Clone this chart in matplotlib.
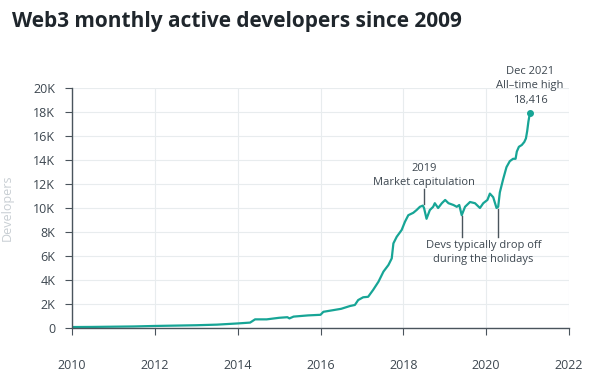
import matplotlib
matplotlib.use("Agg")
import matplotlib.pyplot as plt

# Data (decimal year, monthly active developers)
years = [2010.0, 2010.5, 2011.0, 2011.5, 2012.0, 2012.5, 2013.0, 2013.5, 2014.0, 2014.3,
         2014.42, 2014.7, 2015.0, 2015.2, 2015.25, 2015.35, 2015.7, 2016.0, 2016.07, 2016.5,
         2016.71, 2016.83, 2016.91, 2017.03, 2017.15, 2017.27, 2017.40, 2017.52, 2017.64, 2017.72,
         2017.76, 2017.84, 2017.96, 2018.04, 2018.12, 2018.24, 2018.32, 2018.40, 2018.47, 2018.50,
         2018.56, 2018.64, 2018.72, 2018.76, 2018.84, 2018.93, 2019.01, 2019.09, 2019.21, 2019.29,
         2019.35, 2019.41, 2019.49, 2019.61, 2019.73, 2019.85, 2019.93, 2020.03, 2020.09, 2020.17,
         2020.25, 2020.29, 2020.33, 2020.41, 2020.49, 2020.57, 2020.65, 2020.71, 2020.74, 2020.79,
         2020.86, 2020.92, 2020.96, 2020.99, 2021.02, 2021.04]
devs = [80, 90, 110, 130, 170, 200, 230, 280, 380, 450,
        720, 720, 850, 900, 800, 950, 1050, 1100, 1350, 1600,
        1830, 1920, 2330, 2560, 2600, 3170, 3860, 4700, 5250, 5800,
        7050, 7600, 8170, 8860, 9400, 9600, 9830, 10100, 10200, 10000,
        9100, 9830, 10100, 10400, 10000, 10400, 10670, 10400, 10250, 10100,
        10250, 9400, 10100, 10500, 10400, 10000, 10400, 10670, 11200, 10900,
        10000, 10100, 11300, 12400, 13400, 13900, 14100, 14100, 14700, 15100,
        15250, 15500, 15800, 16400, 17200, 17600]
peak_year = 2021.06
peak_val = 17950

xticks = [2010, 2012, 2014, 2016, 2018, 2020, 2022]
yticks = [0, 2000, 4000, 6000, 8000, 10000, 12000, 14000, 16000, 18000, 20000]
ytick_labels = ["0", "2K", "4K", "6K", "8K", "10K", "12K", "14K", "16K", "18K", "20K"]

plt.rcParams['font.family'] = ['Open Sans', 'DejaVu Sans']

W, H = 607, 383
fig = plt.figure(figsize=(W / 100, H / 100), dpi=100)
ax = fig.add_axes([72 / W, 55 / H, (569 - 72) / W, (328 - 88) / H])

teal = "#17a596"
txt = "#3d4750"
ax.plot(years, devs, color=teal, lw=1.6, solid_joinstyle='round')
ax.plot([peak_year], [peak_val], 'o', color=teal, ms=4)

ax.set_xlim(2010, 2022)
ax.set_ylim(0, 20000)
ax.set_xticks(xticks)
ax.set_xticklabels([str(x) for x in xticks])
ax.set_yticks(yticks)
ax.set_yticklabels(ytick_labels)
ax.grid(True, color="#e8ecee", lw=0.8)
ax.set_axisbelow(True)
for s in ["top", "right"]:
    ax.spines[s].set_visible(False)
for s in ["left", "bottom"]:
    ax.spines[s].set_color("#4a545c")
    ax.spines[s].set_linewidth(1.0)
ax.tick_params(axis='x', length=5, pad=17, labelsize=9, colors=txt, color="#4a545c")
ax.tick_params(axis='y', length=5, pad=7, labelsize=9, colors=txt, color="#4a545c")

ax.set_ylabel("Developers", color="#c8ced3", fontsize=9, labelpad=14)

fig.text(12 / W, 1 - 22 / H, "Web3 monthly active developers since 2009", fontsize=15,
         fontweight='bold', color="#1f262c", va='center', ha='left')

# Annotations
ax.text(2018.5, 12700, "2019\nMarket capitulation", ha='center', va='center',
        fontsize=8, color=txt, linespacing=1.45)
ax.plot([2018.5, 2018.5], [10300, 11550], color="#4a545c", lw=1)

ax.text(2021.06, 20200, "Dec 2021\nAll\u2013time high\n18,416", ha='center', va='center',
        fontsize=8, color=txt, linespacing=1.45, clip_on=False)

ax.text(2019.93, 6300, "Devs typically drop off\nduring the holidays", ha='center', va='center',
        fontsize=8, color=txt, linespacing=1.45)
ax.plot([2019.42, 2019.42], [7600, 9300], color="#4a545c", lw=1)
ax.plot([2020.29, 2020.29], [7600, 9950], color="#4a545c", lw=1)

fig.savefig("out.png", dpi=100, facecolor="white")
